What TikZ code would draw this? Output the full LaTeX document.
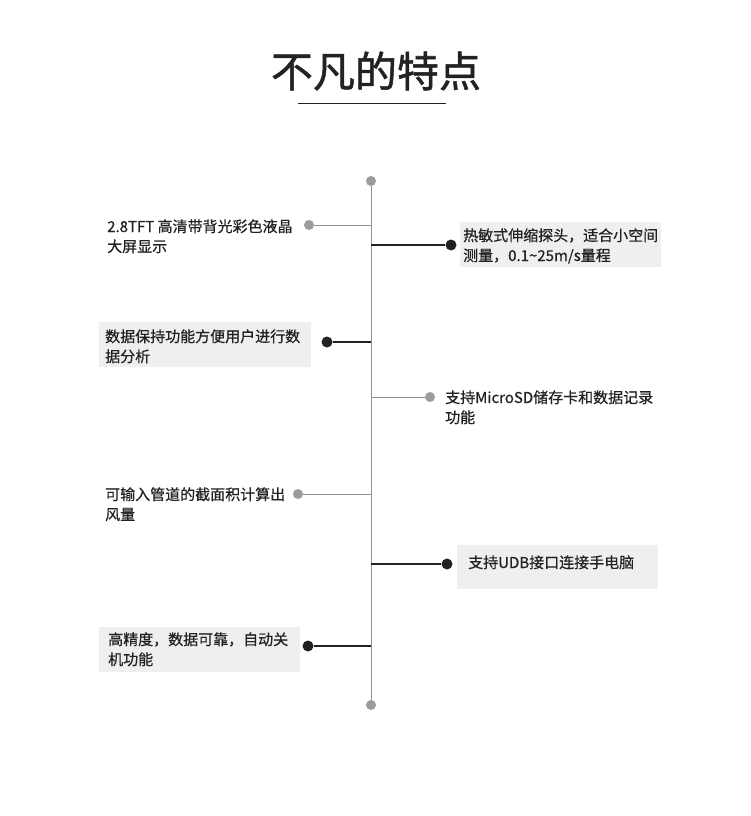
\documentclass[tikz,border=0pt]{standalone}
\usepackage{fontspec}
\setmainfont{Noto Sans CJK SC}
\newfontfamily\cjk[FakeBold=0.6]{Noto Sans CJK SC}
\newfontfamily\cjkhead[FakeBold=1.2]{Noto Sans CJK SC}

\definecolor{dotgrey}{HTML}{9C9C9C}
\definecolor{linegrey}{HTML}{939393}
\definecolor{boxgrey}{HTML}{EFEFEF}
\definecolor{inkdark}{HTML}{222222}

\begin{document}
\begin{tikzpicture}[x=1pt, y=-1pt,
        txt/.style={anchor=base west, align=left, inner sep=0, text=inkdark,
            font=\cjk\fontsize{15}{20}\selectfont},
        shade box/.style={anchor=north west, fill=boxgrey, inner sep=0,
            minimum width=201, minimum height=45},
        grey dot/.style={circle, fill=dotgrey, inner sep=0, minimum size=10},
        black dot/.style={circle, fill=inkdark, inner sep=0, minimum size=11},
        grey link/.style={draw=linegrey, line width=1},
        black link/.style={draw=inkdark, line width=1.2}]
                \useasboundingbox [fill=white] (0,0) rectangle (750,816);

                % Title
                \node [anchor=base, inner sep=0, text=inkdark,
                    font=\cjkhead\fontsize{42}{42}\selectfont] (title) at (376,87) {不凡的特点};
                \coordinate (ul-l) at (298,103);
                \coordinate (ul-r) at (446,103);
                \draw [-, inkdark, line width=1] (ul-l) -- (ul-r);

                % Boxes
                \node [shade box] (box2) at (460,222) {};
                \node [shade box, minimum width=212] (box3) at (99,322) {};
                \node [shade box, minimum height=44] (box6) at (457,545) {};
                \node [shade box] (box7) at (99,627) {};

                % Texts (base = last line)
                \node [txt] (t1) at (107,252) {2.8TFT 高清带背光彩色液晶\\大屏显示};
                \node [txt] (t2) at (463,261) {热敏式伸缩探头，适合小空间\\测量，0.1\textasciitilde25m/s量程};
                \node [txt] (t3) at (105,362) {数据保持功能方便用户进行数\\据分析};
                \node [txt] (t4) at (445,423) {支持MicroSD储存卡和数据记录\\功能};
                \node [txt] (t5) at (105,520) {可输入管道的截面积计算出\\风量};
                \node [txt] (t6) at (468,568) {支持UDB接口连接手电脑};
                \node [txt] (t7) at (108,665) {高精度，数据可靠，自动关\\机功能};

                % Axis
                \node [grey dot] (top) at (371,181) {};
                \node [grey dot] (bottom) at (371,705) {};
                \draw [grey link] (top) -- (bottom);

                % Dots
                \node [grey dot] (d1) at (309,225) {};
                \node [black dot] (d2) at (451,245) {};
                \node [black dot] (d3) at (327,342) {};
                \node [grey dot] (d4) at (430,397) {};
                \node [grey dot] (d5) at (298,494) {};
                \node [black dot] (d6) at (447,564) {};
                \node [black dot] (d7) at (308,646) {};

                % Links
                \coordinate (a1) at (371,225);
                \coordinate (a2) at (371,245);
                \coordinate (a3) at (371,342);
                \coordinate (a4) at (371,397);
                \coordinate (a5) at (371,494);
                \coordinate (a6) at (371,564);
                \coordinate (a7) at (371,646);
                \draw [grey link] (d1) -- (a1);
                \draw [black link] (a2) -- (d2);
                \draw [black link] (d3) -- (a3);
                \draw [grey link] (a4) -- (d4);
                \draw [grey link] (d5) -- (a5);
                \draw [black link] (a6) -- (d6);
                \draw [black link] (d7) -- (a7);
            \end{tikzpicture}
\end{document}
